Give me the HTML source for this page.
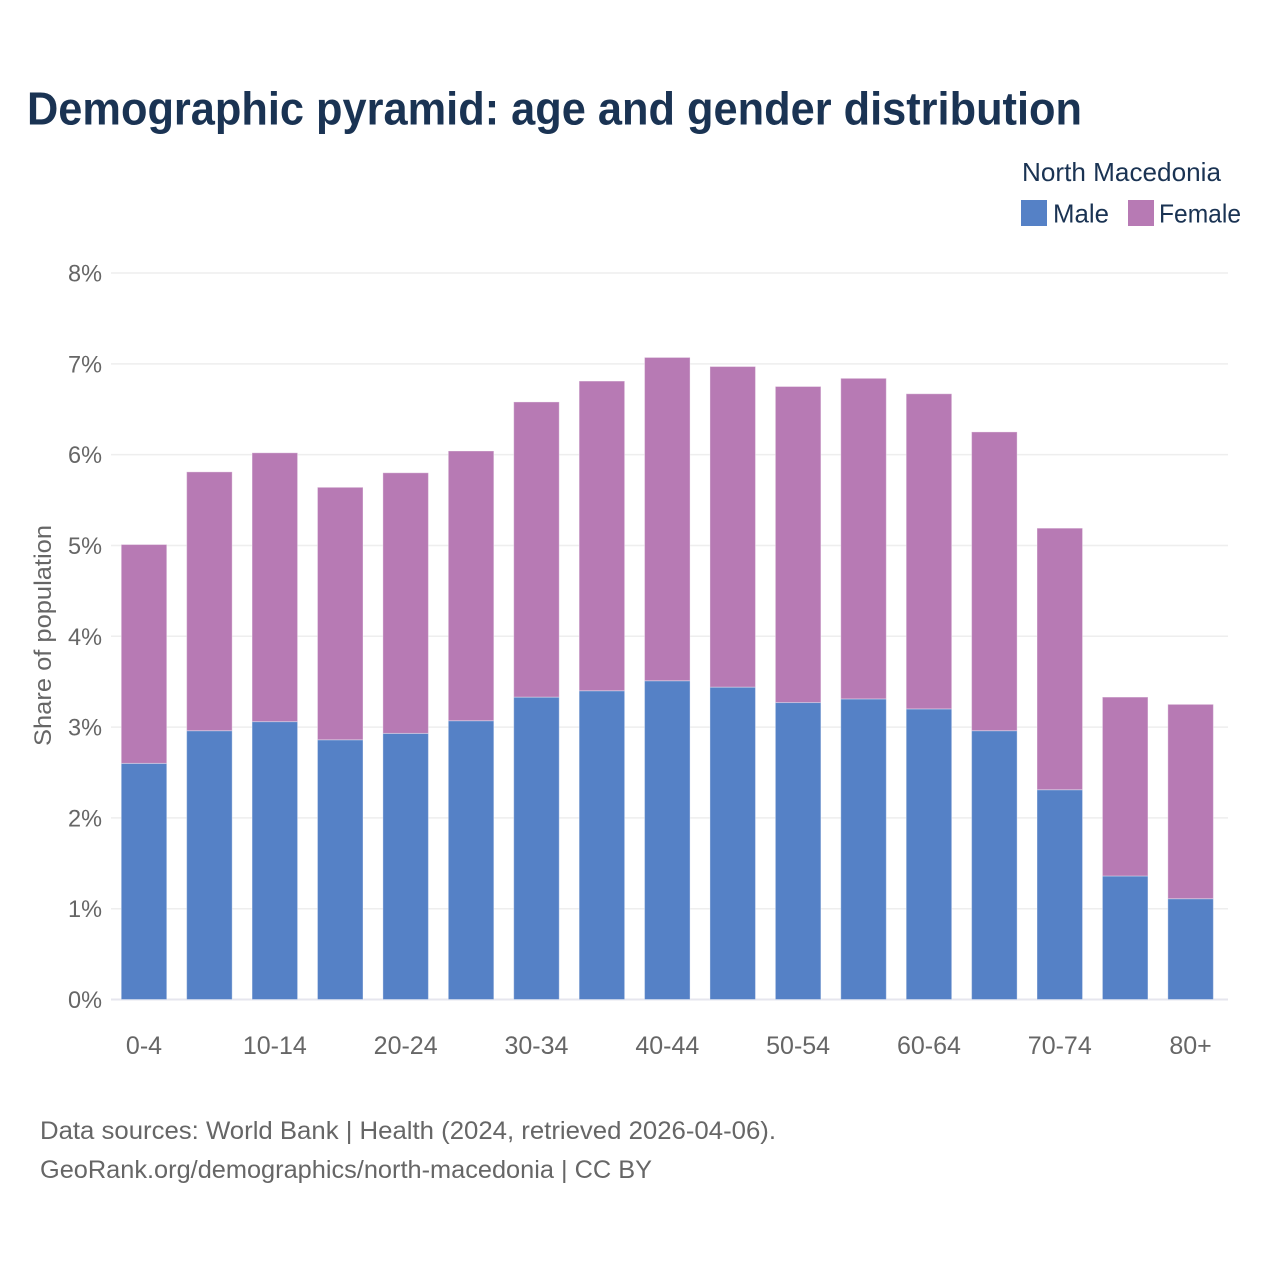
<!DOCTYPE html>
<html lang="en">
<head>
<meta charset="utf-8">
<title>Demographic pyramid: age and gender distribution</title>
<style>
html,body{margin:0;padding:0;background:#fff;}
svg{display:block;font-family:"Liberation Sans",sans-serif;}
</style>
</head>
<body>
<svg id="chart" width="1280" height="1280" viewBox="0 0 1280 1280" xmlns="http://www.w3.org/2000/svg">
  <rect width="1280" height="1280" fill="#fff"/>
  <text x="27" y="124.5" font-size="46" font-weight="700" fill="#1a3353" textLength="1055" lengthAdjust="spacingAndGlyphs">Demographic pyramid: age and gender distribution</text>
  <text x="1022" y="181" font-size="26" fill="#1a3353" textLength="199" lengthAdjust="spacingAndGlyphs">North Macedonia</text>
  <rect x="1021" y="200" width="26" height="26" fill="#5581c6"/>
  <text x="1053" y="222.5" font-size="26" fill="#1a3353" textLength="56" lengthAdjust="spacingAndGlyphs">Male</text>
  <rect x="1128" y="200" width="26" height="26" fill="#b77ab4"/>
  <text x="1159" y="222.5" font-size="26" fill="#1a3353" textLength="82" lengthAdjust="spacingAndGlyphs">Female</text>
  <g id="grid"></g>
  <g id="y-ticks"></g>
  <g id="bars"></g>
  <g id="x-ticks"></g>
  <text transform="translate(51,635.5) rotate(-90)" text-anchor="middle" font-size="24" fill="#666" textLength="221" lengthAdjust="spacingAndGlyphs">Share of population</text>
  <text x="40" y="1139" font-size="25" fill="#666" textLength="736" lengthAdjust="spacingAndGlyphs">Data sources: World Bank | Health (2024, retrieved 2026-04-06).</text>
  <text x="40" y="1178" font-size="25" fill="#666" textLength="612" lengthAdjust="spacingAndGlyphs">GeoRank.org/demographics/north-macedonia | CC BY</text>
</svg>
<script>
const categories = ['0-4','5-9','10-14','15-19','20-24','25-29','30-34','35-39','40-44','45-49','50-54','55-59','60-64','65-69','70-74','75-79','80+'];
const xTickLabels = ['0-4','10-14','20-24','30-34','40-44','50-54','60-64','70-74','80+'];
const maleValues = [2.60,2.96,3.06,2.86,2.93,3.07,3.33,3.40,3.51,3.44,3.27,3.31,3.20,2.96,2.31,1.36,1.11];
const femaleValues = [2.41,2.85,2.96,2.78,2.87,2.97,3.25,3.41,3.56,3.53,3.48,3.53,3.47,3.29,2.88,1.97,2.14];
const yTickValues = [0,1,2,3,4,5,6,7,8];

const NS = 'http://www.w3.org/2000/svg';
const plotLeft = 111, plotRight = 1228, plotBottom = 999.5, plotTop = 273, yMax = 8;
const firstCenter = 144, lastCenter = 1190.6, barWidth = 45.5;

function yScale(v) {
  return plotBottom - (v / yMax) * (plotBottom - plotTop);
}
function xScale(i) {
  return firstCenter + i * (lastCenter - firstCenter) / (categories.length - 1);
}
function make(tag, attrs, parent) {
  const el = document.createElementNS(NS, tag);
  for (const k in attrs) el.setAttribute(k, attrs[k]);
  parent.appendChild(el);
  return el;
}

const gridGroup = document.getElementById('grid');
const yTickGroup = document.getElementById('y-ticks');
yTickValues.forEach(function (t) {
  const line = make('line', {x1: plotLeft, x2: plotRight, y1: yScale(t), y2: yScale(t), stroke: t === 0 ? '#e6e6ee' : '#eeeeee', 'stroke-width': t === 0 ? 2 : 1.5}, gridGroup);
  
  
  const label = make('text', {x: 102, y: yScale(t) + 8.5, 'text-anchor': 'end', 'font-size': 24, fill: '#666', textLength: 34, lengthAdjust: 'spacingAndGlyphs'}, yTickGroup);
  label.textContent = t + '%';
  
  
});

const barGroup = document.getElementById('bars');
categories.forEach(function (c, i) {
  const m = maleValues[i], f = femaleValues[i];
  const x = xScale(i) - barWidth / 2;
  const male = make('rect', {x: x, y: yScale(m), width: barWidth, height: yScale(0) - yScale(m), fill: '#5581c6', stroke: 'rgba(255,255,255,0.35)', 'stroke-width': 1}, barGroup);
  
  
  const female = make('rect', {x: x, y: yScale(m + f), width: barWidth, height: yScale(m) - yScale(m + f), fill: '#b77ab4', stroke: 'rgba(255,255,255,0.35)', 'stroke-width': 1}, barGroup);
  
  
});

const xTickGroup = document.getElementById('x-ticks');
xTickLabels.forEach(function (t) {
  const label = make('text', {x: xScale(categories.indexOf(t)), y: 1054, 'text-anchor': 'middle', 'font-size': 25, fill: '#666'}, xTickGroup);
  label.textContent = t;
  
  
});
</script>
</body>
</html>
